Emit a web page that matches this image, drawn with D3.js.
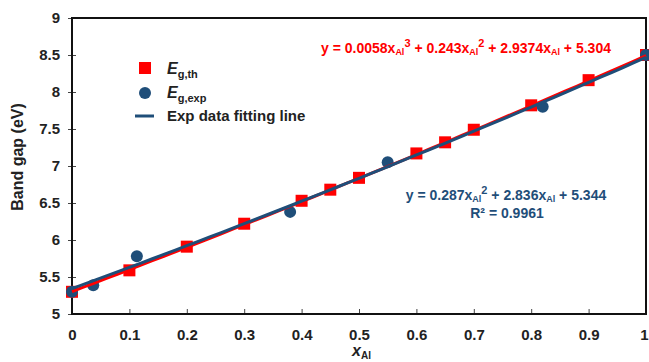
<!DOCTYPE html>
<html>
<head>
<meta charset="utf-8">
<script src="https://cdn.jsdelivr.net/npm/d3@7"></script>
<style>
  body { margin: 0; background: #fff; }
  svg { display: block; font-family: "Liberation Sans", Arial, sans-serif; }
</style>
</head>
<body>
<div id="chart"></div>
<script>
// data
const thX = [0, 0.1, 0.2, 0.3, 0.4, 0.45, 0.5, 0.6, 0.65, 0.7, 0.8, 0.9, 1.0];
const thY = [5.30, 5.59, 5.91, 6.22, 6.53, 6.68, 6.84, 7.17, 7.32, 7.49, 7.82, 8.16, 8.50];
const expX = [0, 0.037, 0.113, 0.38, 0.55, 0.82, 1.0];
const expY = [5.30, 5.39, 5.78, 6.38, 7.05, 7.80, 8.50];
// fitted polynomial coefficients (constant term first), as printed on the chart
const thFit = [5.304, 2.9374, 0.243, 0.0058];
const expFit = [5.344, 2.836, 0.287];
const xTicks = [0, 0.1, 0.2, 0.3, 0.4, 0.5, 0.6, 0.7, 0.8, 0.9, 1];
const yTicks = [5, 5.5, 6, 6.5, 7, 7.5, 8, 8.5, 9];

const width = 649, height = 362;
const margin = { top: 18, right: 3, bottom: 48, left: 72 };
const red = '#ff0000', blue = '#1f4e79';

const svg = d3.select('#chart').append('svg')
  .attr('width', width).attr('height', height);

const x = d3.scaleLinear().domain([0, 1]).range([margin.left, width - margin.right]);
const y = d3.scaleLinear().domain([5, 9]).range([height - margin.bottom, margin.top]);

// axes
svg.append('g')
  .attr('transform', `translate(0,${height - margin.bottom})`)
  .call(d3.axisBottom(x).tickValues(xTicks).tickSizeInner(-5).tickSizeOuter(0)
    .tickFormat(d => d === 0 || d === 1 ? d3.format('d')(d) : d3.format('.1f')(d)))
  .call(g => g.select('.domain').remove())
  .call(g => g.selectAll('.tick line').attr('stroke', '#444'))
  .call(g => g.selectAll('.tick text').attr('y', 15).attr('dy', '0.71em')
    .attr('font-size', 15).attr('font-weight', 'bold').attr('fill', '#222'))
  .call(g => g.selectAll('.tick').filter(d => d === 1).select('text').attr('x', -2));

svg.append('g')
  .attr('transform', `translate(${margin.left},0)`)
  .call(d3.axisLeft(y).tickValues(yTicks).tickSize(4).tickPadding(8).tickFormat(d3.format('')))
  .call(g => g.select('.domain').remove())
  .call(g => g.selectAll('.tick line').attr('x2', 4).attr('x1', -4).attr('stroke', '#444'))
  .call(g => g.selectAll('.tick text').attr('x', -12)
    .attr('font-size', 15).attr('font-weight', 'bold').attr('fill', '#222'));

// plot frame
svg.append('rect')
  .attr('x', margin.left).attr('y', margin.top)
  .attr('width', width - margin.right - margin.left)
  .attr('height', height - margin.bottom - margin.top)
  .attr('fill', 'none').attr('stroke', '#111').attr('stroke-width', 2);

// axis titles
const xt = svg.append('text')
  .attr('x', 352).attr('y', 356)
  .attr('font-size', 16).attr('font-weight', 'bold').attr('fill', '#222');
xt.append('tspan').attr('font-style', 'italic').text('x');
xt.append('tspan').attr('font-size', 10).attr('dy', 3).text('Al');

svg.append('text')
  .attr('transform', 'translate(23,157) rotate(-90)')
  .attr('text-anchor', 'middle')
  .attr('font-size', 16).attr('font-weight', 'bold').attr('fill', '#222')
  .text('Band gap (eV)');

// markers
svg.append('g').selectAll('rect')
  .data(thX.map((d, i) => [d, thY[i]]))
  .join('rect')
  .attr('x', d => x(d[0]) - 6).attr('y', d => y(d[1]) - 6)
  .attr('width', 12).attr('height', 12)
  .attr('fill', red);

svg.append('g').selectAll('circle')
  .data(expX.map((d, i) => [d, expY[i]]))
  .join('circle')
  .attr('cx', d => x(d[0])).attr('cy', d => y(d[1]))
  .attr('r', 6)
  .attr('fill', blue);

// fit lines
const poly = c => v => c.reduce((s, k, i) => s + k * Math.pow(v, i), 0);
const xs = d3.range(0, 1.0001, 0.02);
const line = d3.line().x(d => x(d[0])).y(d => y(d[1]));

svg.append('path')
  .attr('d', line(xs.map(v => [v, poly(thFit)(v)])))
  .attr('fill', 'none').attr('stroke', red).attr('stroke-width', 3);
svg.append('path')
  .attr('d', line(xs.map(v => [v, poly(expFit)(v)])))
  .attr('fill', 'none').attr('stroke', blue).attr('stroke-width', 3);

// legend
const lg = svg.append('g');
lg.append('rect').attr('x', 139).attr('y', 62).attr('width', 12).attr('height', 12).attr('fill', red);
lg.append('circle').attr('cx', 145).attr('cy', 93).attr('r', 6).attr('fill', blue);
lg.append('line').attr('x1', 135).attr('x2', 154).attr('y1', 116).attr('y2', 116)
  .attr('stroke', blue).attr('stroke-width', 3);

function eLabel(yy, sub) {
  const t = lg.append('text').attr('x', 167).attr('y', yy)
    .attr('font-size', 16).attr('font-weight', 'bold').attr('fill', '#222');
  t.append('tspan').attr('font-style', 'italic').text('E');
  t.append('tspan').attr('font-size', 11).attr('dy', 4).text(sub);
}
eLabel(74, 'g,th');
eLabel(98, 'g,exp');
lg.append('text').attr('x', 167).attr('y', 121)
  .attr('font-size', 15).attr('font-weight', 'bold').attr('fill', '#222')
  .text('Exp data fitting line');

// equations
function eq(cx, yy, color, parts) {
  const t = svg.append('text').attr('x', cx).attr('y', yy).attr('text-anchor', 'middle')
    .attr('font-size', 14).attr('font-weight', 'bold').attr('fill', color);
  parts.forEach(p => {
    const s = t.append('tspan').text(p[0]);
    if (p[1] === 'sub') s.attr('font-size', 9).attr('dy', 2);
    if (p[1] === 'sup') s.attr('font-size', 11).attr('dy', -8);
    if (p[1] === 'base') s.attr('dy', 6);
    if (p[1] === 'back') s.attr('dy', -2);
  });
}
eq(466, 53, red, [
  ['y = 0.0058x'], ['Al', 'sub'], ['3', 'sup'], [' + 0.243x', 'base'], ['Al', 'sub'], ['2', 'sup'],
  [' + 2.9374x', 'base'], ['Al', 'sub'], [' + 5.304', 'back']
]);
eq(506, 200, blue, [
  ['y = 0.287x'], ['Al', 'sub'], ['2', 'sup'], [' + 2.836x', 'base'], ['Al', 'sub'], [' + 5.344', 'back']
]);
svg.append('text').attr('x', 507).attr('y', 218).attr('text-anchor', 'middle')
  .attr('font-size', 14).attr('font-weight', 'bold').attr('fill', blue)
  .text('R² = 0.9961');
</script>
</body>
</html>
